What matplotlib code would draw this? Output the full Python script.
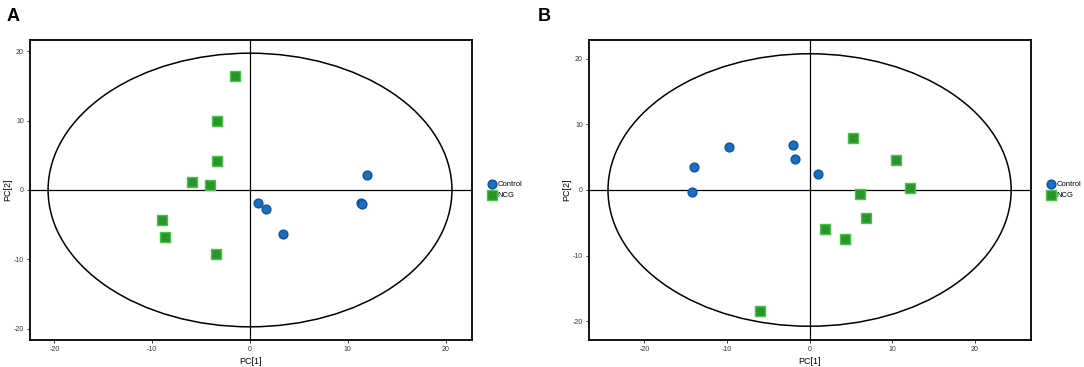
import matplotlib
matplotlib.use("Agg")
import matplotlib.pyplot as plt
from matplotlib.patches import Ellipse
import numpy as np

plt.rcParams['font.family'] = ['Liberation Sans', 'DejaVu Sans']
plt.rcParams['axes.unicode_minus'] = False

# Panel A data
a_control_x = [0.8, 1.6, 12.0, 11.3, 11.4, 3.4]
a_control_y = [-1.9, -2.7, 2.2, -1.8, -2.0, -6.35]
a_ncg_x = [-1.5, -3.4, -3.35, -5.95, -4.1, -9.0, -8.65, -3.5]
a_ncg_y = [16.45, 10.0, 4.2, 1.2, 0.65, -4.25, -6.8, -9.2]
a_ellipse = (20.65, 19.7)

# Panel B data
b_control_x = [-14.0, -14.2, -9.8, -2.05, -1.75, 1.0]
b_control_y = [3.55, -0.35, 6.6, 6.9, 4.75, 2.45]
b_ncg_x = [-6.0, 5.2, 10.45, 12.1, 6.1, 6.8, 1.9, 4.25]
b_ncg_y = [-18.5, 7.95, 4.6, 0.35, -0.6, -4.35, -5.95, -7.5]
b_ellipse = (24.4, 20.8)

groups = ["Control", "NCG"]
ticks = [-20, -10, 0, 10, 20]

fig = plt.figure(figsize=(10.84, 3.67), dpi=100)

def panel(rect, cx, cy, nx, ny, ell, xlim, ylim, letter, letter_x):
    ax = fig.add_axes(rect)
    ax.add_patch(Ellipse((0, 0), 2 * ell[0], 2 * ell[1], fill=False,
                         edgecolor='black', linewidth=1.1, zorder=1))
    ax.axhline(0, color='black', linewidth=0.9, zorder=1)
    ax.axvline(0, color='black', linewidth=0.9, zorder=1)
    ax.scatter(cx, cy, s=40, marker='o', facecolor='#1c6fc0',
               edgecolor='#10529e', linewidth=1.0, zorder=3, label=groups[0])
    ax.scatter(nx, ny, s=44, marker='s', facecolor='#2a962a',
               edgecolor='#4cc04c', linewidth=1.0, zorder=3, label=groups[1])
    ax.set_xlim(*xlim)
    ax.set_ylim(*ylim)
    ax.set_xticks(ticks)
    ax.set_yticks(ticks)
    ax.tick_params(labelsize=5, length=2.5, width=0.7, colors='#333333',
                   pad=2)
    for s in ax.spines.values():
        s.set_linewidth(1.3)
    ax.set_xlabel("PC[1]", fontsize=6.5, labelpad=3)
    ax.set_ylabel("PC[2]", fontsize=6.5, labelpad=1)
    ax.legend(loc='center left', bbox_to_anchor=(1.02, 0.5),
              frameon=False, fontsize=5.5, handletextpad=0.2,
              handlelength=1.0, borderaxespad=0.6, labelspacing=0.45)
    fig.text(letter_x, 0.955, letter, fontsize=13, fontweight='bold',
             ha='left', va='center')
    return ax

W, H = 1084, 367
panel([30 / W, 27 / H, 442 / W, 300 / H], a_control_x, a_control_y,
      a_ncg_x, a_ncg_y, a_ellipse, (-22.5, 22.7), (-21.6, 21.6), "A", 7 / W)
panel([589 / W, 27 / H, 442 / W, 300 / H], b_control_x, b_control_y,
      b_ncg_x, b_ncg_y, b_ellipse, (-26.7, 26.8), (-22.9, 22.9), "B", 538 / W)

fig.savefig("out.png", dpi=100)
